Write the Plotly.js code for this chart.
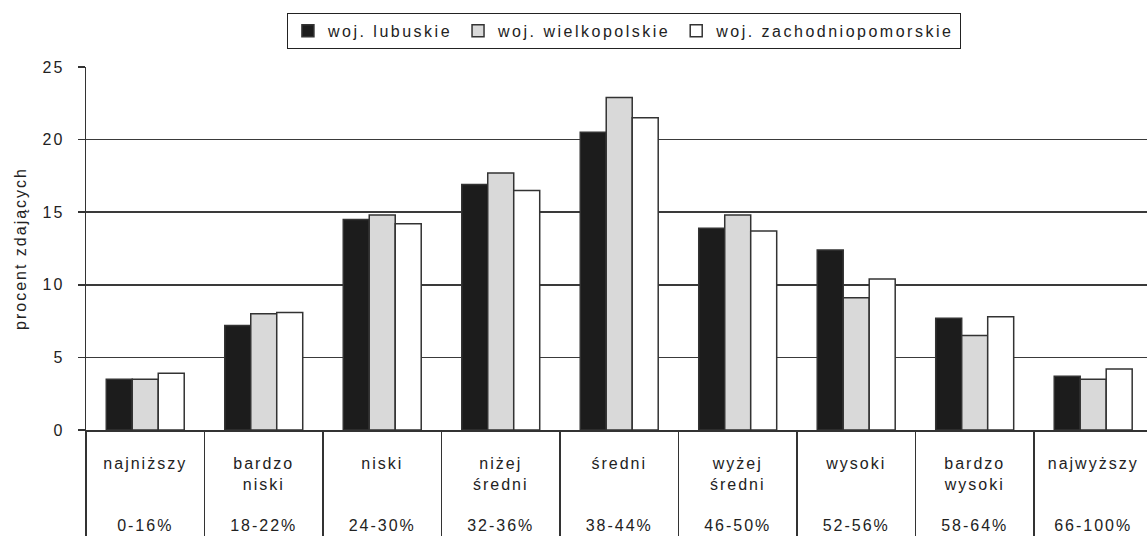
<!DOCTYPE html>
<html>
<head>
<meta charset="utf-8">
<script src="https://cdn.plot.ly/plotly-3.0.1.min.js"></script>
<style>
  html, body { margin: 0; padding: 0; background: #fff; }
  #chart { width: 1147px; height: 536px; }
  .xtick text, .ytick text, .ytitle { letter-spacing: 2px; }
  .legendtext { letter-spacing: 2.5px; }
</style>
</head>
<body>
<div id="chart"></div>
<script>
// Category names (two possible lines) and score ranges
const levelNames = ["najniższy", "bardzo<br>niski", "niski", "niżej<br>średni", "średni",
                    "wyżej<br>średni", "wysoki", "bardzo<br>wysoki", "najwyższy"];
const levelRanges = ["0-16%", "18-22%", "24-30%", "32-36%", "38-44%",
                     "46-50%", "52-56%", "58-64%", "66-100%"];

// Series (percent of examinees)
const seriesNames = ["woj. lubuskie", "woj. wielkopolskie", "woj. zachodniopomorskie"];
const lubuskie           = [3.5, 7.2, 14.5, 16.9, 20.5, 13.9, 12.4, 7.7, 3.7];
const wielkopolskie      = [3.5, 8.0, 14.8, 17.7, 22.9, 14.8, 9.1, 6.5, 3.5];
const zachodniopomorskie = [3.9, 8.1, 14.2, 16.5, 21.5, 13.7, 10.4, 7.8, 4.2];

const yTitle = "procent zdających";

const NB = "\u00a0";
const categories = levelNames.map((n, i) => {
  const lines = n.split("<br>");
  while (lines.length < 3) lines.push(NB);
  lines.push(levelRanges[i]);
  return lines.join("<br>");
});

const fills = ["#1c1c1c", "#d9d9d9", "#ffffff"];
const values = [lubuskie, wielkopolskie, zachodniopomorskie];

const traces = values.map((v, k) => ({
  type: "bar",
  name: seriesNames[k],
  x: categories,
  y: v,
  marker: { color: fills[k], line: { color: "#333333", width: 1.5 } },
  hoverinfo: "skip"
}));

const FONT = "Liberation Sans, Arial, sans-serif";

const layout = {
  width: 1147,
  height: 536,
  paper_bgcolor: "#ffffff",
  plot_bgcolor: "#ffffff",
  margin: { l: 86, r: 0, t: 67, b: 106, pad: 0 },
  barmode: "group",
  bargap: 0.342,
  bargroupgap: 0,
  font: { family: FONT, size: 16, color: "#222222" },
  showlegend: true,
  legend: {
    orientation: "h",
    x: 0.507, xanchor: "center",
    y: 1.05, yanchor: "bottom",
    bordercolor: "#222222",
    borderwidth: 1,
    bgcolor: "#ffffff",
    font: { family: FONT, size: 16, color: "#222222" },
    itemwidth: 30,
    traceorder: "normal"
  },
  xaxis: {
    type: "category",
    range: [-0.5, 8.454],
    tickson: "boundaries",
    ticks: "outside",
    ticklen: 106,
    tickwidth: 1.5,
    tickcolor: "#333333",
    showgrid: false,
    showline: true,
    linecolor: "#333333",
    linewidth: 1.5,
    ticklabelstandoff: 18,
    tickfont: { family: FONT, size: 16, color: "#222222" },
    fixedrange: true
  },
  yaxis: {
    range: [0, 25],
    dtick: 5,
    ticks: "outside",
    ticklen: 7,
    tickwidth: 1.5,
    tickcolor: "#333333",
    showline: true,
    linecolor: "#333333",
    linewidth: 1.5,
    showgrid: true,
    gridcolor: "#3a3a3a",
    gridwidth: 1.5,
    zeroline: false,
    ticklabelstandoff: 10,
    tickfont: { family: FONT, size: 16, color: "#222222" },
    title: { text: yTitle, font: { family: FONT, size: 16, color: "#222222" }, standoff: 12 },
    fixedrange: true
  }
};

Plotly.newPlot("chart", traces, layout, { displayModeBar: false, staticPlot: true });
</script>
</body>
</html>
